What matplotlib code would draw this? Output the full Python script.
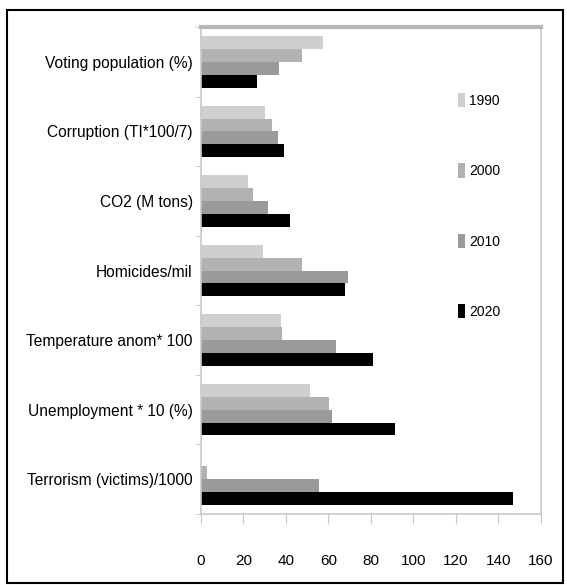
import numpy as np
import matplotlib.pyplot as plt
from matplotlib.patches import Rectangle

plt.rcParams['font.family'] = ['Liberation Sans Narrow', 'Liberation Sans', 'DejaVu Sans']

# Datos
categorias = ['Voting population (%)', 'Corruption (TI*100/7)', 'CO2 (M tons)',
              'Homicides/mil', 'Temperature anom* 100', 'Unemployment * 10 (%)',
              'Terrorism (victims)/1000']
anios = ['1990', '2000', '2010', '2020']
v1990 = [57.4, 30.1, 22.1, 29.2, 37.6, 51.3, 0]
v2000 = [47.5, 33.4, 24.5, 47.5, 38.1, 60.2, 2.8]
v2010 = [36.7, 36.2, 31.5, 69.2, 63.5, 61.6, 55.5]
v2020 = [26.4, 39.1, 41.9, 67.8, 80.9, 91.3, 146.8]
xticks = [0, 20, 40, 60, 80, 100, 120, 140, 160]

series = [v1990, v2000, v2010, v2020]
colores = ['#cfcfcf', '#b2b2b2', '#9a9a9a', '#000000']

fig = plt.figure(figsize=(5.67, 5.85), dpi=100)
ax = fig.add_axes([0.3545, 0.1214, 0.5995, 0.8324])

y = np.arange(len(categorias))
h = 0.185
for i, (vals, c) in enumerate(zip(series, colores)):
    ax.barh(y + (i - 1.5) * h, vals, height=h, color=c, label=anios[i])

ax.set_ylim(len(categorias) - 0.5, -0.5)
ax.set_xlim(0, 160)
ax.set_xticks(xticks)
ax.set_yticks(y)
ax.set_yticklabels(categorias, fontsize=11.2)
ax.set_yticks(np.arange(-0.5, len(categorias), 1), minor=True)
ax.tick_params(axis='y', which='major', length=0, pad=6)
ax.tick_params(axis='y', which='minor', length=4, color='#c8c8c8')
ax.tick_params(axis='x', length=7, color='#c8c8c8', pad=22, labelsize=11)

for s in ['left', 'bottom', 'right']:
    ax.spines[s].set_color('#c8c8c8')
    ax.spines[s].set_linewidth(1.2)
ax.spines['top'].set_color('#b8b8b8')
ax.spines['top'].set_linewidth(3)

ax.legend(loc='upper left', bbox_to_anchor=(0.72, 0.89), frameon=False,
          fontsize=10, labelspacing=4.0, handlelength=0.5, handleheight=1.2,
          handletextpad=0.3)

# marco exterior
fig.patches.append(Rectangle((0.012, 0.003), 0.981, 0.98, transform=fig.transFigure,
                             fill=False, edgecolor='black', linewidth=1.5))

fig.savefig('out.png', dpi=100)
